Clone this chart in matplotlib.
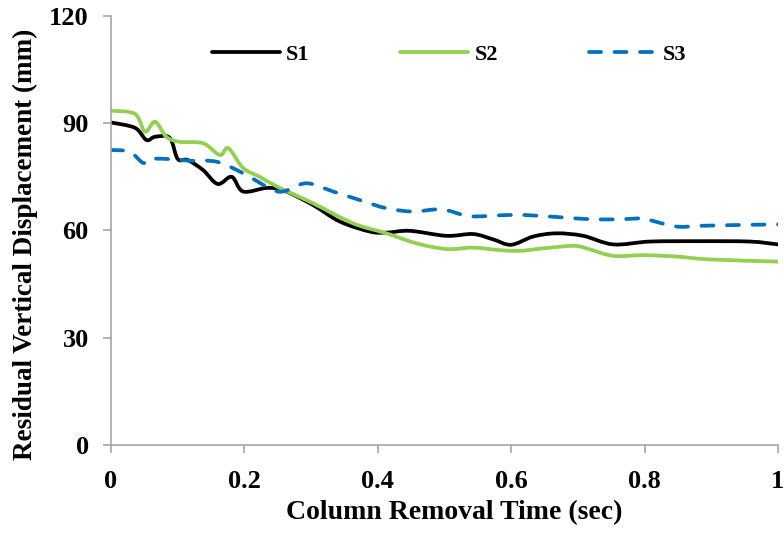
import numpy as np
import matplotlib
matplotlib.use("Agg")
import matplotlib.pyplot as plt
from matplotlib.path import Path
from matplotlib.patches import PathPatch
from matplotlib.lines import Line2D

plt.rcParams['font.family'] = ['Liberation Serif', 'DejaVu Serif']
plt.rcParams['font.weight'] = 'bold'

# residual vertical displacement (mm) vs column removal time (sec)
t1 = [0.0, 0.036, 0.053, 0.066, 0.088, 0.1, 0.115, 0.138, 0.16, 0.181, 0.198, 0.234,
      0.26, 0.303, 0.343, 0.388, 0.413, 0.448, 0.503, 0.543, 0.573, 0.6, 0.633, 0.668,
      0.708, 0.753, 0.808, 0.883, 0.958, 1.0]
s1 = [90.2, 88.7, 85.3, 86.2, 85.9, 80.0, 79.7, 76.9, 73.0, 75.0, 70.9, 71.9,
      71.1, 67.1, 62.5, 59.7, 59.4, 59.9, 58.5, 59.0, 57.5, 56.0, 58.3, 59.2,
      58.5, 56.1, 56.9, 57.0, 56.9, 56.1]

t2 = [0.0, 0.036, 0.051, 0.066, 0.083, 0.103, 0.138, 0.163, 0.176, 0.198, 0.223,
      0.253, 0.303, 0.363, 0.413, 0.458, 0.503, 0.543, 0.583, 0.613, 0.648, 0.693,
      0.713, 0.753, 0.798, 0.848, 0.898, 1.0]
s2 = [93.5, 92.6, 87.6, 90.4, 86.2, 84.8, 84.4, 81.1, 83.0, 77.5, 75.0,
      71.9, 67.6, 62.0, 59.2, 56.4, 54.8, 55.2, 54.5, 54.3, 55.0, 55.7,
      55.0, 52.9, 53.1, 52.7, 51.9, 51.3]

t3 = [0.0, 0.028, 0.048, 0.058, 0.084, 0.118, 0.159, 0.198, 0.238, 0.258, 0.293,
      0.333, 0.373, 0.413, 0.453, 0.496, 0.538, 0.59, 0.623, 0.673, 0.713, 0.758,
      0.798, 0.808, 0.848, 0.883, 0.933, 1.0]
s3 = [82.5, 82.0, 78.9, 80.0, 80.0, 79.5, 79.2, 76.0, 71.8, 70.9, 73.2,
      70.9, 68.5, 66.2, 65.3, 65.9, 64.0, 64.3, 64.3, 63.7, 63.2, 63.1,
      63.4, 62.9, 61.1, 61.3, 61.5, 61.7]

labels = ['S1', 'S2', 'S3']
colors = ['black', '#92D050', '#0070C0']
xticks = [0, 0.2, 0.4, 0.6, 0.8, 1]
xticklabels = ['0', '0.2', '0.4', '0.6', '0.8', '1']
yticks = [0, 30, 60, 90, 120]


def smooth_path(x, y):
    # Catmull-Rom through the points, written as cubic Bezier segments
    p = np.column_stack([x, y]).astype(float)
    n = len(p)
    verts = [p[0]]
    codes = [Path.MOVETO]
    for i in range(n - 1):
        p0 = p[i - 1] if i > 0 else p[i]
        p1 = p[i]
        p2 = p[i + 1]
        p3 = p[i + 2] if i + 2 < n else p[i + 1]
        c1 = p1 + (p2 - p0) / 6.0
        c2 = p2 - (p3 - p1) / 6.0
        verts += [c1, c2, p2]
        codes += [Path.CURVE4] * 3
    return Path(verts, codes)


fig = plt.figure(figsize=(7.84, 5.33), dpi=100)
ax = fig.add_axes([0.1416, 0.1651, 0.8507, 0.805])

lw = 2.7
styles = [dict(linestyle='-'), dict(linestyle='-'), dict(linestyle=(0, (3.2, 3.6)))]
for (x, y), c, st in zip([(t1, s1), (t2, s2), (t3, s3)], colors, styles):
    patch = PathPatch(smooth_path(x, y), facecolor='none', edgecolor=c,
                      linewidth=lw, capstyle='round', joinstyle='round', **st)
    ax.add_patch(patch)

handles = [Line2D([], [], color=c, linewidth=lw, solid_capstyle='round',
                  dash_capstyle='round', **st)
           for c, st in zip(colors, styles)]
ax.legend(handles, labels, loc='upper center', bbox_to_anchor=(0.507, 0.98), ncol=3,
          frameon=False, handlelength=3.06, handletextpad=0.27,
          columnspacing=4.1, prop={'weight': 'bold', 'size': 16})

ax.set_xlim(0, 1)
ax.set_ylim(0, 120)
ax.set_xticks(xticks)
ax.set_xticklabels(xticklabels)
ax.set_yticks(yticks)
ax.tick_params(axis='both', labelsize=19, color='#A6A6A6', length=6, width=1.2,
               direction='out')
ax.tick_params(axis='y', pad=10)
ax.tick_params(axis='x', pad=12)
for lab in ax.get_xticklabels() + ax.get_yticklabels():
    lab.set_fontweight('bold')
for side in ['top', 'right']:
    ax.spines[side].set_visible(False)
for side in ['left', 'bottom']:
    ax.spines[side].set_color('#A6A6A6')
    ax.spines[side].set_linewidth(1.2)

ax.set_xlabel('Column Removal Time (sec)', fontsize=20, fontweight='bold', va='center')
ax.set_ylabel('Residual Vertical Displacement (mm)', fontsize=19.5, fontweight='bold',
              va='center', ha='center')
ax.xaxis.set_label_coords(0.514, -0.1585)
ax.yaxis.set_label_coords(-0.129, 0.4685)

fig.savefig('out.png', dpi=100)
